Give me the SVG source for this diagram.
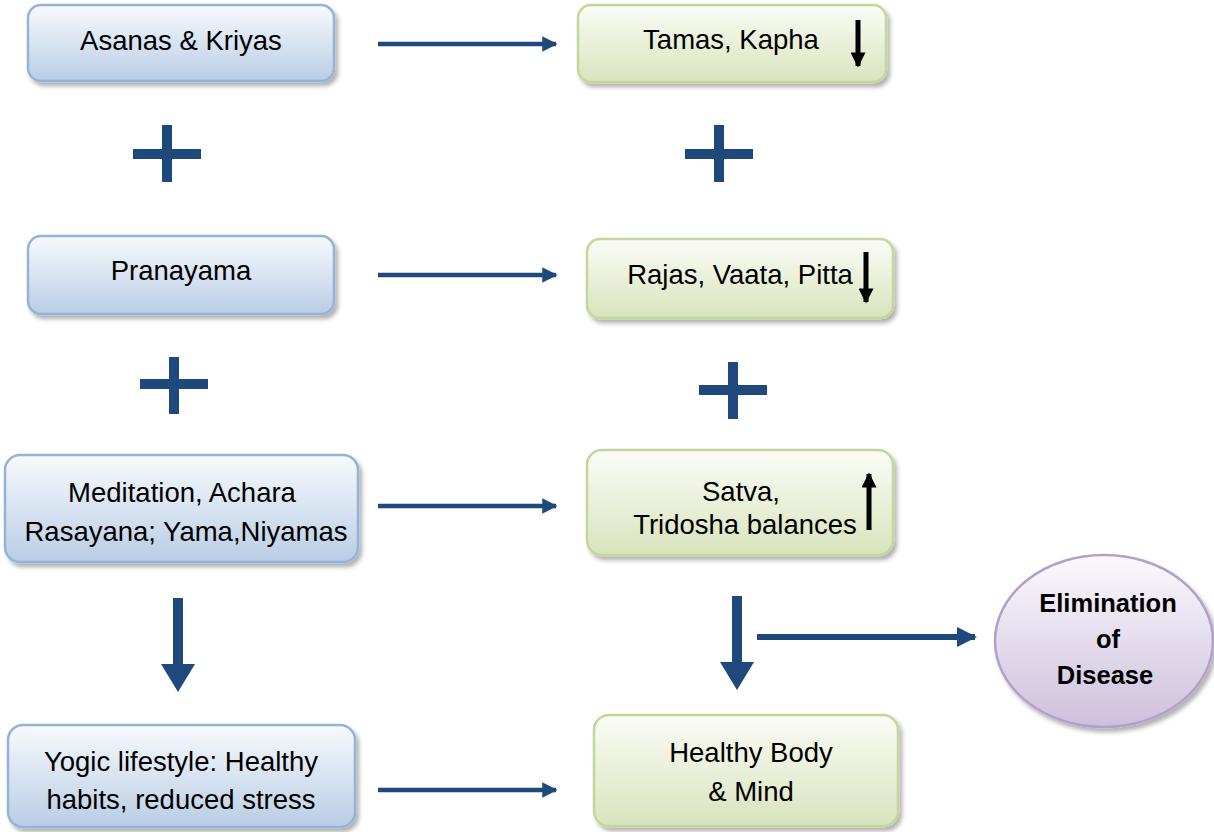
<svg xmlns="http://www.w3.org/2000/svg" width="1214" height="832" viewBox="0 0 1214 832">
<defs>
<linearGradient id="gb" x1="0" y1="0" x2="0" y2="1"><stop offset="0" stop-color="#f7fafd"/><stop offset="1" stop-color="#b9cde5"/></linearGradient>
<linearGradient id="gg" x1="0" y1="0" x2="0" y2="1"><stop offset="0" stop-color="#fbfcf6"/><stop offset="1" stop-color="#d8e4bd"/></linearGradient>
<linearGradient id="gp" x1="0" y1="0" x2="0" y2="1"><stop offset="0" stop-color="#fbf9fd"/><stop offset="1" stop-color="#cdc0dd"/></linearGradient>
<filter id="sh" x="-10%" y="-10%" width="130%" height="140%"><feDropShadow dx="3" dy="4" stdDeviation="2" flood-color="#000" flood-opacity="0.3"/></filter>
<marker id="ah" viewBox="0 0 10 10" refX="9" refY="5" markerWidth="3.4" markerHeight="3.4" orient="auto" markerUnits="strokeWidth"><path d="M0,0 L10,5 L0,10 z" fill="#1f497d"/></marker>
<marker id="ak" viewBox="0 0 10 10" refX="9" refY="5" markerWidth="3.2" markerHeight="3" orient="auto" markerUnits="strokeWidth"><path d="M0,0 L10,5 L0,10 z" fill="#000"/></marker>
</defs>
<style>
.bb{fill:url(#gb);stroke:#95b3d7;stroke-width:2.5;filter:url(#sh)}
.bg{fill:url(#gg);stroke:#c3d69b;stroke-width:2.5;filter:url(#sh)}
.t{font-family:"Liberation Sans",Arial,sans-serif;font-size:27.5px;fill:#000;text-anchor:middle}
.tb{font-family:"Liberation Sans",Arial,sans-serif;font-size:25.5px;font-weight:bold;fill:#000;text-anchor:middle}
.c{stroke:#1f497d;fill:none}
.plus{fill:#1f497d}
.k{stroke:#000;stroke-width:5;fill:none}
</style>
<g id="connectors">
<line class="c" x1="378" y1="44" x2="556" y2="44" stroke-width="4.5" marker-end="url(#ah)"/>
<line class="c" x1="378" y1="275" x2="556" y2="275" stroke-width="4.5" marker-end="url(#ah)"/>
<line class="c" x1="378" y1="506" x2="556" y2="506" stroke-width="4.5" marker-end="url(#ah)"/>
<line class="c" x1="378" y1="790" x2="556" y2="790" stroke-width="4.5" marker-end="url(#ah)"/>
<line class="c" x1="757" y1="637" x2="975" y2="637" stroke-width="6" marker-end="url(#ah)"/>
<path d="M173,598 h10 v66 h12 l-17,28 l-17,-28 h12 z" fill="#1f497d"/>
<path d="M732,596 h10 v66 h12 l-17,28 l-17,-28 h12 z" fill="#1f497d"/>
</g>
<g id="plus1" class="plus"><rect x="133" y="149" width="68" height="10"/><rect x="162" y="125" width="10" height="57"/></g>
<g id="plus2" class="plus"><rect x="685" y="149" width="68" height="10"/><rect x="714" y="125" width="10" height="57"/></g>
<g id="plus3" class="plus"><rect x="140" y="379" width="68" height="10"/><rect x="169" y="357" width="10" height="57"/></g>
<g id="plus4" class="plus"><rect x="699" y="385" width="68" height="10"/><rect x="728" y="362" width="10" height="57"/></g>
<g id="n1"><rect class="bb" x="28" y="5" width="306" height="76" rx="13"/><text class="t" x="181" y="50">Asanas &amp; Kriyas</text></g>
<g id="n2"><rect class="bg" x="578" y="5" width="308" height="77" rx="13"/><text class="t" x="731" y="49">Tamas, Kapha</text><line class="k" x1="858" y1="20" x2="858" y2="66" marker-end="url(#ak)"/></g>
<g id="n3"><rect class="bb" x="28" y="236" width="306" height="78" rx="13"/><text class="t" x="181" y="280">Pranayama</text></g>
<g id="n4"><rect class="bg" x="587" y="239" width="306" height="79" rx="13"/><text class="t" x="740" y="284">Rajas, Vaata, Pitta</text><line class="k" x1="866" y1="252" x2="866" y2="302" marker-end="url(#ak)"/></g>
<g id="n5"><rect class="bb" x="5" y="455" width="353" height="107" rx="15"/><text class="t" x="182" y="502">Meditation, Achara</text><text class="t" x="186" y="541">Rasayana; Yama,Niyamas</text></g>
<g id="n6"><rect class="bg" x="587" y="450" width="306" height="105" rx="15"/><text class="t" x="741" y="501">Satva,</text><text class="t" x="745" y="534">Tridosha balances</text><line class="k" x1="869" y1="530" x2="869" y2="474" marker-end="url(#ak)"/></g>
<g id="n7"><ellipse cx="1104" cy="641" rx="109" ry="86" fill="url(#gp)" stroke="#b2a1c7" stroke-width="2.5" filter="url(#sh)"/><text class="tb" x="1108" y="612">Elimination</text><text class="tb" x="1108" y="648">of</text><text class="tb" x="1105" y="684">Disease</text></g>
<g id="n8"><rect class="bb" x="8" y="725" width="347" height="102" rx="15"/><text class="t" x="181" y="771">Yogic lifestyle: Healthy</text><text class="t" x="181" y="809">habits, reduced stress</text></g>
<g id="n9"><rect class="bg" x="594" y="715" width="304" height="111" rx="15"/><text class="t" x="751" y="762">Healthy Body</text><text class="t" x="751" y="801">&amp; Mind</text></g>
</svg>
